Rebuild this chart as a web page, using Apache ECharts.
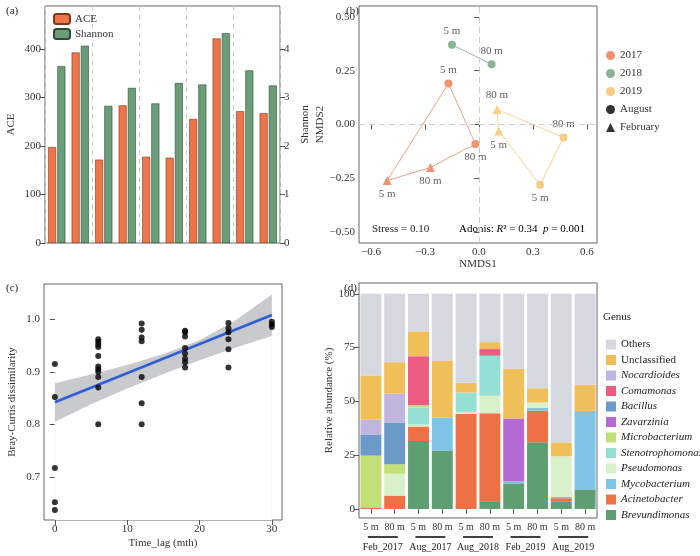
<!DOCTYPE html>
<html><head><meta charset="utf-8">
<script src="https://cdn.jsdelivr.net/npm/echarts@6/dist/echarts.min.js"></script>
<style>html,body{margin:0;background:#fff}#c{width:700px;height:556px}</style>
</head><body><div id="c"></div>
<script>
// (a) alpha diversity
const samplesA = ['F17-5','F17-80','A17-5','A17-80','A18-5','A18-80','F19-5','F19-80','A19-5','A19-80'];
const aceVals = [198, 393, 172, 284, 178, 176, 256, 422, 272, 268];
const shannonVals = [3.65, 4.07, 2.83, 3.20, 2.88, 3.30, 3.27, 4.33, 3.56, 3.25];

// (b) NMDS  [x, y, depth]
const nmds2017Aug = [[-0.17, 0.19, '5 m'], [-0.02, -0.09, '80 m']];
const nmds2017Feb = [[-0.51, -0.26, '5 m'], [-0.27, -0.20, '80 m']];
const nmds2018Aug = [[-0.15, 0.37, '5 m'], [0.07, 0.28, '80 m']];
const nmds2019Aug = [[0.47, -0.06, '80 m'], [0.34, -0.28, '5 m']];
const nmds2019Feb = [[0.10, 0.07, '80 m'], [0.11, -0.03, '5 m']];

// (c) distance decay
const lagPoints = [
  [0,0.915],[0,0.852],[0,0.717],[0,0.652],[0,0.637],
  [6,0.962],[6,0.957],[6,0.952],[6,0.947],[6,0.930],[6,0.910],[6,0.905],[6,0.900],[6,0.890],[6,0.870],[6,0.800],
  [12,0.992],[12,0.980],[12,0.965],[12,0.958],[12,0.890],[12,0.840],[12,0.800],
  [18,0.978],[18,0.975],[18,0.967],[18,0.945],[18,0.935],[18,0.925],[18,0.918],[18,0.908],
  [24,0.993],[24,0.983],[24,0.975],[24,0.962],[24,0.943],[24,0.908],
  [30,0.995],[30,0.990],[30,0.985]
];
const fitLine = [[0,0.842],[30,1.008]];
const ciLower = [[0,0.805],[5,0.838],[10,0.868],[15,0.896],[20,0.922],[25,0.946],[30,0.968]];
const ciUpper = [[0,0.878],[5,0.895],[10,0.913],[15,0.934],[20,0.960],[25,0.998],[30,1.047]];

// (d) genus composition
const samplesD = ['5 m','80 m','5 m','80 m','5 m','80 m','5 m','80 m','5 m','80 m'];
const groupsD = ['Feb_2017','Aug_2017','Aug_2018','Feb_2019','Aug_2019'];
const genera = ['Brevundimonas','Acinetobacter','Mycobacterium','Pseudomonas','Stenotrophomonas','Microbacterium','Zavarzinia','Bacillus','Comamonas','Nocardioides','Unclassified','Others'];
const genusColors = ['#5f9e72','#ee7047','#7ec4e4','#d8f1cb','#95dfd4','#c3df78','#b46ad4','#6b9ac9','#ec5b80','#bfb5df','#efbf5a','#d6d8df'];
const brevundimonas   = [0, 0, 31.6, 27.0, 0, 3.6, 11.9, 31.0, 3.3, 9.1];
const acinetobacter   = [0.7, 6.2, 6.7, 0, 44.2, 40.9, 0, 14.7, 1.7, 0];
const mycobacterium   = [0, 0, 0, 15.5, 0, 0, 1.0, 1.3, 0.7, 36.5];
const pseudomonas     = [0, 10.2, 0.9, 0, 0.9, 8.1, 0, 2.5, 18.8, 0];
const stenotrophomonas= [0, 0, 7.9, 0, 9.0, 18.6, 0, 0, 0, 0];
const microbacterium  = [24.1, 4.4, 1.1, 0, 0, 0, 0, 0, 0, 0];
const zavarzinia      = [0, 0, 0, 0, 0, 0, 29.1, 0, 0, 0];
const bacillus        = [9.6, 19.4, 0, 0, 0, 0, 0, 0, 0, 0];
const comamonas       = [0, 0, 22.8, 0, 0, 3.1, 0, 0, 0, 0];
const nocardioides    = [7.0, 13.4, 0, 0, 0, 0, 0, 0, 0, 0];
const unclassified    = [20.6, 14.6, 11.5, 26.5, 4.5, 3.2, 23.1, 6.6, 6.4, 12.1];
const others          = [38.0, 31.8, 17.5, 31.0, 41.4, 22.5, 34.9, 43.9, 69.1, 42.3];
const genusVals = [brevundimonas, acinetobacter, mycobacterium, pseudomonas, stenotrophomonas, microbacterium, zavarzinia, bacillus, comamonas, nocardioides, unclassified, others];

const FONT = 'Liberation Serif';
const C17 = '#ee7549', C18 = '#6a9e78', C19 = '#f1c060';
const txt = { fontFamily: FONT, fontSize: 11, color: '#333' };
const frame = { show: true, borderColor: '#666', borderWidth: 1 };
const noLine = { show: false };

function ptLabel(pos){ return { show: true, position: pos, formatter: p => p.value[2], fontFamily: FONT, fontSize: 11, color: '#333', distance: 4 }; }
function pts(arr, positions){ return arr.map((d,i)=>({ value: d, label: ptLabel(positions[i]) })); }
function xy(arr){ return arr.map(d=>[d[0],d[1]]); }

const chart = echarts.init(document.getElementById('c'));
const series = [
  // (a)
  { type: 'bar', name: 'ACE', xAxisIndex: 0, yAxisIndex: 0, data: aceVals, barWidth: 8, barGap: '15%',
    itemStyle: { color: C17, borderColor: '#7a3a20', borderWidth: 0.6 } },
  { type: 'bar', name: 'Shannon', xAxisIndex: 0, yAxisIndex: 1, data: shannonVals, barWidth: 8,
    itemStyle: { color: C18, borderColor: '#2f4a36', borderWidth: 0.6 } },
  // (b) hulls
  { type: 'line', xAxisIndex: 1, yAxisIndex: 2, data: xy([nmds2017Aug[0], nmds2017Aug[1], nmds2017Feb[1], nmds2017Feb[0], nmds2017Aug[0]]),
    symbol: 'none', lineStyle: { color: '#e8a38a', width: 1 }, silent: true,
    markLine: { silent: true, symbol: 'none', label: { show: false }, lineStyle: { color: '#ccc', type: [6,4], width: 1 }, data: [{ xAxis: 0 }, { yAxis: 0 }] } },
  { type: 'line', xAxisIndex: 1, yAxisIndex: 2, data: xy(nmds2018Aug), symbol: 'none', lineStyle: { color: '#9bb8a3', width: 1 }, silent: true },
  { type: 'line', xAxisIndex: 1, yAxisIndex: 2, data: xy([nmds2019Feb[0], nmds2019Aug[0], nmds2019Aug[1], nmds2019Feb[1], nmds2019Feb[0]]), symbol: 'none', lineStyle: { color: '#f0d592', width: 1 }, silent: true },
  // (b) points
  { type: 'scatter', name: '2017', xAxisIndex: 1, yAxisIndex: 2, symbol: 'circle', symbolSize: 8, itemStyle: { color: C17 }, data: pts(nmds2017Aug, ['top','bottom']) },
  { type: 'scatter', name: '2017', xAxisIndex: 1, yAxisIndex: 2, symbol: 'triangle', symbolSize: 9, itemStyle: { color: C17 }, data: pts(nmds2017Feb, ['bottom','bottom']) },
  { type: 'scatter', name: '2018', xAxisIndex: 1, yAxisIndex: 2, symbol: 'circle', symbolSize: 8, itemStyle: { color: C18 }, data: pts(nmds2018Aug, ['top','top']) },
  { type: 'scatter', name: '2019', xAxisIndex: 1, yAxisIndex: 2, symbol: 'circle', symbolSize: 8, itemStyle: { color: C19 }, data: pts(nmds2019Aug, ['top','bottom']) },
  { type: 'scatter', name: '2019', xAxisIndex: 1, yAxisIndex: 2, symbol: 'triangle', symbolSize: 9, itemStyle: { color: C19 }, data: pts(nmds2019Feb, ['top','bottom']) },
  { type: 'scatter', name: 'August', xAxisIndex: 1, yAxisIndex: 2, symbol: 'circle', itemStyle: { color: '#000' }, data: [] },
  { type: 'scatter', name: 'February', xAxisIndex: 1, yAxisIndex: 2, symbol: 'triangle', itemStyle: { color: '#000' }, data: [] },
  // (c)
  { type: 'line', xAxisIndex: 2, yAxisIndex: 3, data: ciUpper, symbol: 'none', lineStyle: { width: 0 }, areaStyle: { color: '#c9cacd', opacity: 1, origin: 'start' }, z: 1, silent: true },
  { type: 'line', xAxisIndex: 2, yAxisIndex: 3, data: ciLower, symbol: 'none', lineStyle: { width: 0 }, areaStyle: { color: '#fff', opacity: 1, origin: 'start' }, z: 2, silent: true },
  { type: 'line', xAxisIndex: 2, yAxisIndex: 3, data: fitLine, symbol: 'none', lineStyle: { color: '#2f5fd6', width: 2.5 }, z: 3 },
  { type: 'scatter', xAxisIndex: 2, yAxisIndex: 3, data: lagPoints, symbolSize: 6, itemStyle: { color: '#000' }, z: 4 }
];
genera.forEach((g,i)=>{
  series.push({ type: 'bar', name: g, xAxisIndex: 3, yAxisIndex: 4, stack: 'g', data: genusVals[i], barWidth: '88%',
    itemStyle: { color: genusColors[i] } });
});

const italic = ['Others','Unclassified'];
const legendD = genera.slice().reverse();
const rich = { n: { fontFamily: FONT, fontSize: 11, color: '#222' }, i: { fontFamily: FONT, fontSize: 11, fontStyle: 'italic', color: '#222' } };
const graphics = [
  { type: 'text', left: 6, top: 6, style: { text: '(a)', font: '11px ' + FONT, fill: '#222' } },
  { type: 'text', left: 346, top: 6, style: { text: '(b)', font: '11px ' + FONT, fill: '#222' } },
  { type: 'text', left: 6, top: 283, style: { text: '(c)', font: '11px ' + FONT, fill: '#222' } },
  { type: 'text', left: 344, top: 283, style: { text: '(d)', font: '11px ' + FONT, fill: '#222' } },
  { type: 'text', left: 372, top: 224, style: { text: 'Stress = 0.10', font: '11px ' + FONT, fill: '#222' } },
  { type: 'text', left: 459, top: 224, style: { rich: rich, text: '{n|Adonis: }{i|R}{n|² = 0.34  }{i|p}{n| = 0.001}' } },
  { type: 'text', left: 168, top: 495, style: { rich: rich, text: '{i|R}{n|² = 0.36    }{i|P}{n| < 0.001}' } },
  { type: 'text', left: 603, top: 312, style: { text: 'Genus', font: '11px ' + FONT, fill: '#222' } }
];
groupsD.forEach((g,i)=>{
  const cx = 359 + 47.6 * (i + 0.5);
  graphics.push({ type: 'line', shape: { x1: cx - 15, y1: 537, x2: cx + 15, y2: 537 }, style: { stroke: '#000', lineWidth: 1.5 } });
  graphics.push({ type: 'text', x: cx, y: 542, style: { text: g, font: '10px ' + FONT, fill: '#222', align: 'center' } });
});

chart.setOption({
  animation: false,
  textStyle: { fontFamily: FONT },
  grid: [
    Object.assign({ left: 45, top: 6, width: 235, height: 237 }, frame),
    Object.assign({ left: 359, top: 6, width: 238, height: 237 }, frame),
    Object.assign({ left: 44, top: 284, width: 238, height: 236 }, frame),
    Object.assign({ left: 359, top: 283, width: 238, height: 235 }, frame)
  ],
  legend: [
    { data: ['ACE','Shannon'], left: 48, top: 8, orient: 'vertical', itemWidth: 16, itemHeight: 10, itemGap: 3, textStyle: txt },
    { data: ['2017','2018','2019','August','February'], left: 601, top: 45, orient: 'vertical', itemWidth: 9, itemHeight: 9, itemGap: 7, textStyle: txt },
    { data: legendD, left: 601, top: 334, orient: 'vertical', itemWidth: 10, itemHeight: 10, itemGap: 4.5, icon: 'rect',
      formatter: n => italic.includes(n) ? '{n|' + n + '}' : '{i|' + n + '}',
      textStyle: { rich: rich } }
  ],
  xAxis: [
    { type: 'category', gridIndex: 0, data: samplesA, axisLine: noLine, axisTick: noLine, axisLabel: noLine,
      splitLine: { show: true, interval: 1, lineStyle: { color: '#c8cbd3', type: [5,4] } } },
    { type: 'value', gridIndex: 1, min: -0.667, max: 0.656, name: 'NMDS1', nameLocation: 'middle', nameGap: 16, nameTextStyle: txt,
      axisLine: noLine, splitLine: noLine,
      axisTick: { show: true, customValues: [-0.6,-0.3,0,0.3,0.6] },
      axisLabel: Object.assign({ customValues: [-0.6,-0.3,0,0.3,0.6], formatter: v => (v < 0 ? '−' : '') + Math.abs(v).toFixed(1), margin: 4 }, txt) },
    { type: 'value', gridIndex: 2, min: -1.5, max: 31.4, name: 'Time_lag (mth)', nameLocation: 'middle', nameGap: 18, nameTextStyle: txt,
      axisLine: noLine, splitLine: noLine,
      axisTick: { show: true, customValues: [0,10,20,30] },
      axisLabel: Object.assign({ customValues: [0,10,20,30], margin: 4 }, txt) },
    { type: 'category', gridIndex: 3, data: samplesD, axisLine: noLine, axisTick: { show: true, alignWithLabel: true },
      axisLabel: Object.assign({ interval: 0, margin: 4 }, txt, { fontSize: 10 }) }
  ],
  yAxis: [
    { type: 'value', gridIndex: 0, min: 0, max: 489, name: 'ACE', nameLocation: 'middle', nameGap: 28, nameTextStyle: txt,
      axisLine: noLine, splitLine: noLine,
      axisTick: { show: true, customValues: [0,100,200,300,400] },
      axisLabel: Object.assign({ customValues: [0,100,200,300,400], margin: 4 }, txt) },
    { type: 'value', gridIndex: 0, position: 'right', min: 0, max: 4.89, name: 'Shannon', nameLocation: 'middle', nameGap: 20, nameTextStyle: txt,
      axisLine: noLine, splitLine: noLine,
      axisTick: { show: true, customValues: [0,1,2,3,4] },
      axisLabel: Object.assign({ customValues: [0,1,2,3,4], margin: 4 }, txt) },
    { type: 'value', gridIndex: 1, min: -0.55, max: 0.55, name: 'NMDS2', nameLocation: 'middle', nameGap: 33, nameTextStyle: txt,
      axisLine: noLine, splitLine: noLine,
      axisTick: { show: true, customValues: [-0.5,-0.25,0,0.25,0.5] },
      axisLabel: Object.assign({ customValues: [-0.5,-0.25,0,0.25,0.5], formatter: v => (v < 0 ? '−' : '') + Math.abs(v).toFixed(2), margin: 4 }, txt) },
    { type: 'value', gridIndex: 2, min: 0.618, max: 1.067, name: 'Bray-Curtis dissimilarity', nameLocation: 'middle', nameGap: 26, nameTextStyle: txt,
      axisLine: noLine, splitLine: noLine,
      axisTick: { show: true, customValues: [0.7,0.8,0.9,1.0] },
      axisLabel: Object.assign({ customValues: [0.7,0.8,0.9,1.0], formatter: v => v.toFixed(1), margin: 4 }, txt) },
    { type: 'value', gridIndex: 3, min: -4.2, max: 105, name: 'Relative abundance (%)', nameLocation: 'middle', nameGap: 24, nameTextStyle: txt,
      axisLine: noLine, splitLine: noLine,
      axisTick: { show: true, customValues: [0,25,50,75,100] },
      axisLabel: Object.assign({ customValues: [0,25,50,75,100], margin: 4 }, txt) }
  ],
  series: series,
  graphic: graphics
});
</script></body></html>
